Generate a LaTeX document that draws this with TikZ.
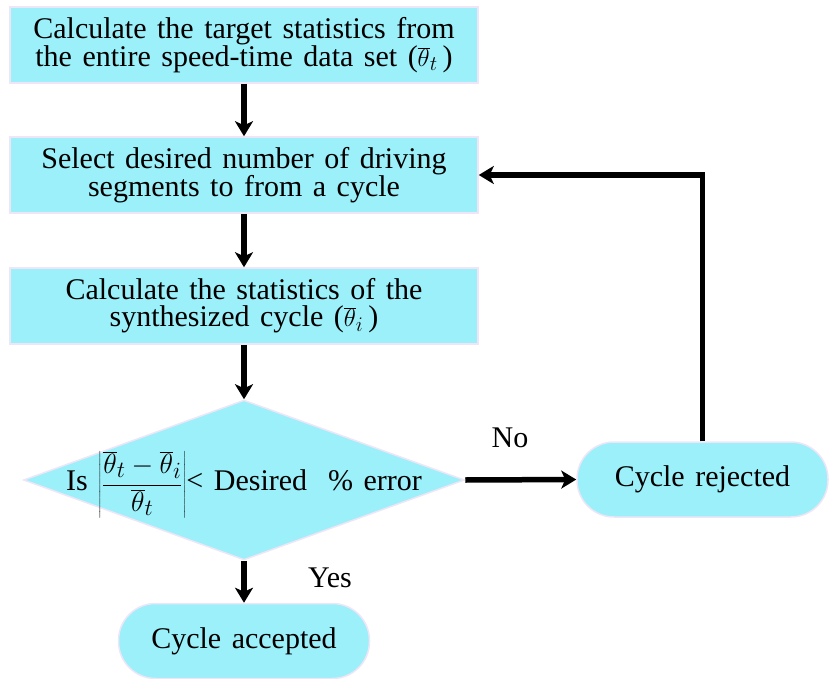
\documentclass[tikz,border=0pt]{standalone}
\usepackage{fontspec}
\setmainfont[WordSpace=1.4]{Liberation Serif}
\usetikzlibrary{shapes.geometric,arrows.meta}

\definecolor{boxfill}{RGB}{155,240,250}
\definecolor{glow}{RGB}{238,230,247}

\begin{document}
\begin{tikzpicture}[x=1pt,y=-1pt,
  font=\fontsize{30}{27}\selectfont,
  stepbox/.style={rectangle, fill=boxfill, draw=glow, line width=1.5pt,
    minimum width=468pt, minimum height=76pt, align=center, inner sep=0pt},
  terminal/.style={rectangle, rounded corners=37pt, fill=boxfill, draw=glow,
    line width=1.5pt, minimum width=251pt, minimum height=75pt, inner sep=0pt},
  decision/.style={diamond, fill=boxfill, draw=glow, line width=1.5pt,
    minimum width=441pt, minimum height=160pt, inner sep=0pt},
  flow/.style={line width=5.5pt, -{Stealth[length=15pt,width=18pt,inset=4pt]}},
]
\useasboundingbox (0,0) rectangle (829,679);

% process steps
\node[stepbox] (calc) at (244,45)
  {Calculate the target statistics from\\the entire speed-time data set ($\overline{\theta}_t$\,)};
\node[stepbox] (select) at (244,175)
  {Select desired number of driving\\segments to from a cycle};
\node[stepbox] (synth) at (244,306)
  {Calculate the statistics of the\\synthesized cycle ($\overline{\theta}_i$\,)};

% decision
\node[decision] (check) at (244,480) {};
\node (cond) at (244,485)
  {Is\ \raisebox{-1pt}{\scalebox{1.12}{$\displaystyle\left|\frac{\overline{\theta}_t-\overline{\theta}_i}{\overline{\theta}_t}\right|$}}< Desired\ \ \% error};

% outcomes
\node[terminal] (reject) at (702.5,479.5) {Cycle rejected};
\node[terminal] (accept) at (244,641) {Cycle accepted};

% connectors
\draw[flow] (calc) -- (select);
\draw[flow] (select) -- (synth);
\draw[flow] (synth) -- (check);
\draw[flow] (check) -- (accept);
\draw[flow] (check.east) -- (reject.west);
\draw[flow] (reject.north) |- (select.east);

% branch labels
\node (yes) at (330,578) {Yes};
\node (no) at (510,438) {No};
\end{tikzpicture}
\end{document}
